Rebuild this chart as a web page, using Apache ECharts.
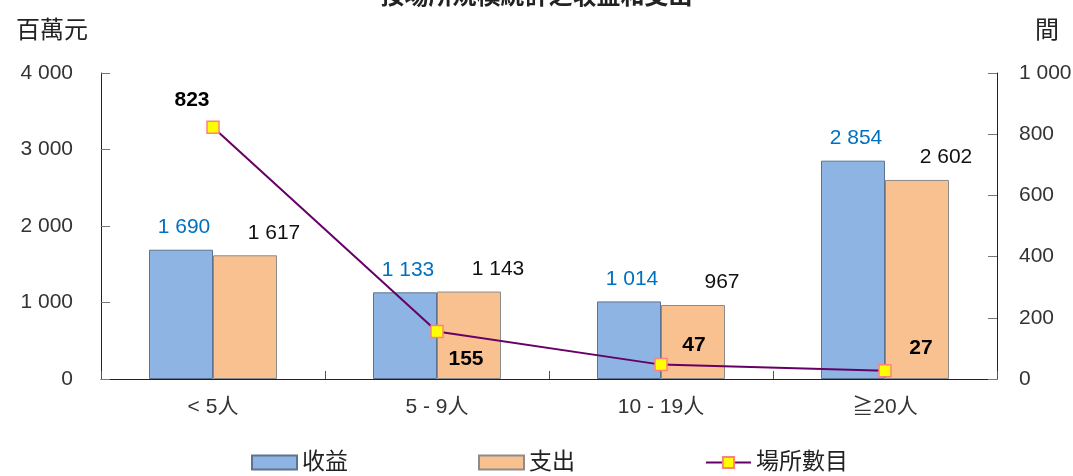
<!DOCTYPE html>
<html>
<head>
<meta charset="utf-8">
<script src="https://cdn.jsdelivr.net/npm/echarts@6/dist/echarts.min.js"></script>
<style>
html,body{margin:0;padding:0;background:#fff;}
#chart{width:1073px;height:476px;}
</style>
</head>
<body>
<div id="chart"></div>
<script>
// ---- data ----
const categories = ['< 5人', '5 - 9人', '10 - 19人', '≧20人'];
const revenue = [1690, 1133, 1014, 2854];     // 收益 (百萬元)
const expense = [1617, 1143, 967, 2602];      // 支出 (百萬元)
const establishments = [823, 155, 47, 27];    // 場所數目 (間)
const leftTicks = [0, 1000, 2000, 3000, 4000];
const rightTicks = [0, 200, 400, 600, 800, 1000];
const seriesNames = ['收益', '支出', '場所數目'];

// ---- layout (label offsets for line points) ----
const lineLabelOffsets = [[-21, -27], [29, 28], [33, -19], [36, -23]];

const FONT = '"Liberation Sans", Arial, "Noto Sans CJK TC", sans-serif';
function fmt(v) { return String(v).replace(/\B(?=(\d{3})+(?!\d))/g, ' '); }

const chart = echarts.init(document.getElementById('chart'), null, {renderer: 'canvas'});
chart.setOption({
  animation: false,
  backgroundColor: '#fff',
  textStyle: {fontFamily: FONT},
  title: {
    text: '按場所規模統計之收益和支出',
    left: 'center', top: -20,
    textStyle: {fontSize: 24, fontWeight: 'bold', color: '#222', fontFamily: FONT}
  },
  grid: {left: 101, right: 76, top: 73, bottom: 97, containLabel: false, outerBoundsMode: 'none'},
  legend: {
    left: 246, top: 446,
    itemWidth: 45, itemHeight: 14, itemGap: 130,
    textStyle: {fontSize: 23, color: '#222', fontFamily: FONT},
    data: [
      {name: seriesNames[0], icon: 'rect'},
      {name: seriesNames[1], icon: 'rect'},
      {name: seriesNames[2]}
    ]
  },
  xAxis: {
    type: 'category',
    data: categories,
    axisLine: {lineStyle: {color: '#222', width: 1}},
    axisTick: {show: true, inside: true, length: 8, lineStyle: {color: '#555'}},
    axisLabel: {fontSize: 21, color: '#333', margin: 18, fontFamily: FONT}
  },
  yAxis: [
    {
      type: 'value', min: leftTicks[0], max: leftTicks[leftTicks.length-1], interval: 1000,
      name: '百萬元', nameLocation: 'end', nameGap: 30,
      nameTextStyle: {fontSize: 24, color: '#222', align: 'right', padding: [0, 13, 0, 0], fontFamily: FONT},
      axisLine: {show: true, lineStyle: {color: '#222'}},
      axisTick: {show: true, inside: true, length: 9, lineStyle: {color: '#777'}},
      splitLine: {show: false},
      axisLabel: {fontSize: 21, color: '#333', margin: 28, formatter: fmt, fontFamily: FONT}
    },
    {
      type: 'value', min: rightTicks[0], max: rightTicks[rightTicks.length-1], interval: 200,
      name: '間', nameLocation: 'end', nameGap: 30,
      nameTextStyle: {fontSize: 24, color: '#222', align: 'left', padding: [0, 0, 0, 38], fontFamily: FONT},
      axisLine: {show: true, lineStyle: {color: '#222'}},
      axisTick: {show: true, inside: true, length: 9, lineStyle: {color: '#777'}},
      splitLine: {show: false},
      axisLabel: {fontSize: 21, color: '#333', margin: 22, formatter: fmt, fontFamily: FONT}
    }
  ],
  series: [
    {
      name: seriesNames[0], type: 'bar', yAxisIndex: 0,
      data: revenue, barWidth: 64, barGap: '0%',
      itemStyle: {color: '#8EB4E3', borderColor: '#5E7391', borderWidth: 1},
      label: {show: true, position: 'top', distance: 12, offset: [3, 0],
        color: '#0070C0', fontSize: 21, fontFamily: FONT, formatter: p => fmt(p.value)}
    },
    {
      name: seriesNames[1], type: 'bar', yAxisIndex: 0,
      data: expense, barWidth: 64, barGap: '0%',
      itemStyle: {color: '#F9C090', borderColor: '#8C8C8C', borderWidth: 1},
      label: {show: true, position: 'top', distance: 12, offset: [29, 0],
        color: '#111', fontSize: 21, fontFamily: FONT, formatter: p => fmt(p.value)}
    },
    {
      name: seriesNames[2], type: 'line', yAxisIndex: 1,
      data: establishments.map((v, i) => ({
        value: v,
        label: {offset: lineLabelOffsets[i]}
      })),
      symbol: 'rect', symbolSize: 12,
      lineStyle: {color: '#660066', width: 2},
      itemStyle: {color: '#FFFF00', borderColor: '#FF8080', borderWidth: 1.5},
      label: {show: true, position: 'inside', color: '#000', fontSize: 21, fontWeight: 'bold', fontFamily: FONT},
      z: 5
    }
  ]
});
</script>
</body>
</html>
